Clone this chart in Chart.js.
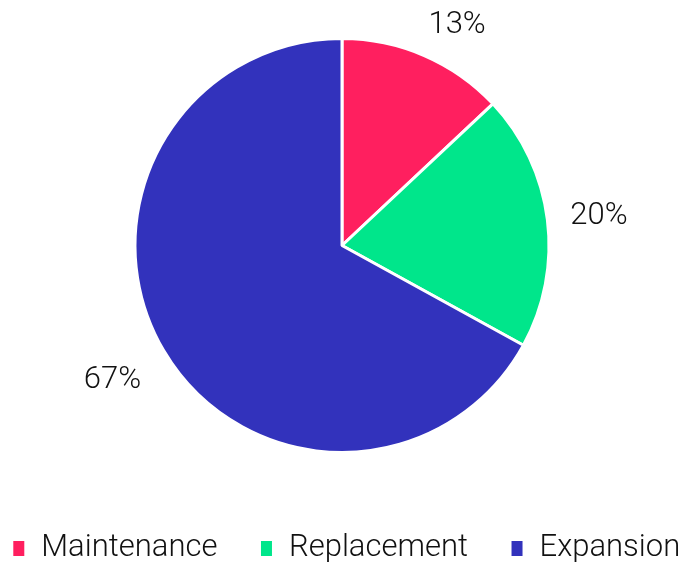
<!DOCTYPE html>
<html>
<head>
<meta charset="utf-8">
<script src="https://cdn.jsdelivr.net/npm/chart.js@4.4.1/dist/chart.umd.min.js"></script>
<style>
  html, body { margin: 0; padding: 0; background: #fff; }
  #wrap { width: 684px; height: 562px; }
</style>
</head>
<body>
<div id="wrap"><canvas id="pie"></canvas></div>
<script>
const categories = ["Maintenance", "Replacement", "Expansion"];
const shares = [13, 20, 67];
const colors = ["#FF1F5F", "#00E68B", "#3232BC"];

const FONT = "Roboto, 'Noto Sans', sans-serif";

// percentage labels outside each slice, kept inside the canvas
const outLabels = {
    id: "outLabels",
    afterDatasetsDraw(chart) {
        const ctx = chart.ctx;
        const meta = chart.getDatasetMeta(0);
        const total = shares.reduce((a, b) => a + b, 0);
        ctx.save();
        ctx.font = "300 31px " + FONT;
        ctx.fillStyle = "#111";
        ctx.textAlign = "center";
        ctx.textBaseline = "middle";
        meta.data.forEach((arc, i) => {
            const p = arc.getProps(["x", "y", "startAngle", "endAngle", "outerRadius"], true);
            const mid = (p.startAngle + p.endAngle) / 2;
            const vx = Math.cos(mid), vy = Math.sin(mid);
            const text = Math.round(shares[i] / total * 100) + "%";
            const hw = ctx.measureText(text).width / 2;
            const hh = 12;
            const r = p.outerRadius + 22 + Math.abs(vx) * hw + Math.abs(vy) * hh;
            let x = p.x + vx * r;
            let y = p.y + vy * r;
            if (y - hh < 10) {
                y = 10 + hh;
                const dy = y - p.y;
                x = p.x + Math.sign(vx || 1) * Math.sqrt(Math.max(r * r - dy * dy, 0));
            }
            if (vx < 0) x -= 6;
            ctx.fillText(text, x, y + 3);
        });
        ctx.restore();
    },
};

new Chart(document.getElementById("pie"), {
    type: "pie",
    data: {
        labels: categories,
        datasets: [
            {
                data: shares,
                backgroundColor: colors,
                borderColor: "#fff",
                borderWidth: 3,
            },
        ],
    },
    options: {
        responsive: true,
        maintainAspectRatio: false,
        animation: false,
        events: [],
        radius: 207,
        layout: { padding: { top: -4, bottom: -12, left: -56, right: -64 } },
        plugins: {
            legend: {
                position: "bottom",
                labels: {
                    font: { family: FONT, size: 31, weight: "300" },
                    color: "#111",
                    boxWidth: 14,
                    boxHeight: 18,
                    padding: 42,
                },
            },
            tooltip: { enabled: false },
        },
    },
    plugins: [outLabels],
});
</script>
</body>
</html>
